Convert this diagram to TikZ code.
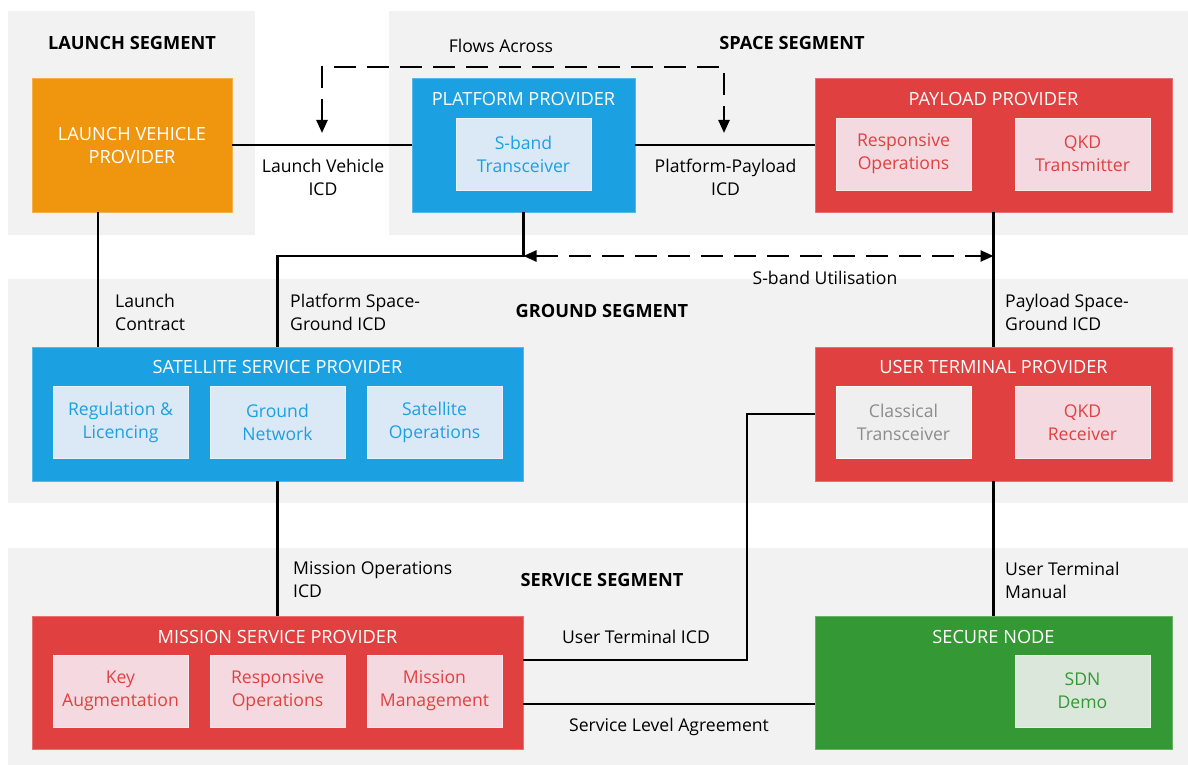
\documentclass[tikz,border=0pt]{standalone}
\usepackage{fontspec}
\setmainfont{Open Sans}
\usetikzlibrary{arrows.meta}
\definecolor{segbg}{HTML}{F2F2F2}
\definecolor{corange}{HTML}{F0960E}
\definecolor{cblue}{HTML}{1BA1E2}
\definecolor{cred}{HTML}{E04040}
\definecolor{cgreen}{HTML}{349934}
\definecolor{iblue}{HTML}{DBE8F6}
\definecolor{ired}{HTML}{F4DAE0}
\definecolor{igreen}{HTML}{DBE7DB}
\definecolor{igray}{HTML}{EFEFEF}
\definecolor{tgray}{HTML}{8C8C8C}
\newcommand{\bodyfont}{\fontsize{17.6}{23}\selectfont}
\newcommand{\capfont}{\fontsize{18.2}{23}\selectfont}
\tikzset{
  segbox/.style={fill=segbg, draw=none},
  segtitle/.style={font=\capfont\bfseries, text=black, inner sep=0pt},
  outer/.style={draw=#1!75!white, line width=0.8pt, fill=#1, inner sep=0pt, rectangle},
  boxtitle/.style={font=\capfont, text=white, inner sep=0pt},
  inner/.style={rectangle, inner sep=0pt, minimum width=135pt, minimum height=72pt, align=center, font=\bodyfont, line width=0.8pt},
  conn/.style={line width=2.4pt, draw=black},
  dashconn/.style={line width=2.4pt, draw=black, dash pattern=on 22pt off 11pt, {Triangle[length=13pt,width=11pt]}-{Triangle[length=13pt,width=11pt]}},
  lbl/.style={font=\bodyfont, text=black, inner sep=0pt, align=center},
  lbll/.style={font=\bodyfont, text=black, inner sep=0pt, align=left, anchor=west},
}
\begin{document}
\begin{tikzpicture}[x=1pt,y=-1pt]
\useasboundingbox (0,0) rectangle (1188,765);
% segments
\fill[segbox] (8,11) rectangle (255,235);
\fill[segbox] (389,11) rectangle (1188,235);
\fill[segbox] (8,279) rectangle (1188,503);
\fill[segbox] (8,548) rectangle (1188,765);
\node[segtitle] (tlaunch) at (132,43) {LAUNCH SEGMENT};
\node[segtitle] (tspace) at (792,43) {SPACE SEGMENT};
\node[segtitle] (tground) at (602,311) {GROUND SEGMENT};
\node[segtitle] (tservice) at (602,580) {SERVICE SEGMENT};

% launch vehicle provider
\node[outer=corange, minimum width=200pt, minimum height=134pt, font=\capfont, text=white, align=center] (lv) at (132,145) {LAUNCH VEHICLE\\PROVIDER};

% platform provider
\node[outer=cblue, minimum width=223pt, minimum height=134pt] (pp) at (523.5,145) {};
\node[boxtitle] (ppt) at (523.5,99) {PLATFORM PROVIDER};
\node[inner, fill=iblue, draw=iblue!60!white, text=cblue] (sband) at (523.5,154) {S-band\\Transceiver};

% payload provider
\node[outer=cred, minimum width=357pt, minimum height=134pt] (pl) at (993.5,145) {};
\node[boxtitle] (plt) at (993.5,99) {PAYLOAD PROVIDER};
\node[inner, fill=ired, draw=ired!60!white, text=cred] (plro) at (903.5,154) {Responsive\\Operations};
\node[inner, fill=ired, draw=ired!60!white, text=cred] (plqkd) at (1082.5,154) {QKD\\Transmitter};

% satellite service provider
\node[outer=cblue, minimum width=491pt, minimum height=134pt] (ssp) at (277.5,414) {};
\node[boxtitle] (sspt) at (277.5,367) {SATELLITE SERVICE PROVIDER};
\node[inner, fill=iblue, draw=iblue!60!white, text=cblue] (reg) at (120.5,422.5) {Regulation \&\\Licencing};
\node[inner, fill=iblue, draw=iblue!60!white, text=cblue] (gnet) at (277.5,422.5) {Ground\\Network};
\node[inner, fill=iblue, draw=iblue!60!white, text=cblue] (satops) at (434.5,422.5) {Satellite\\Operations};

% user terminal provider
\node[outer=cred, minimum width=357pt, minimum height=134pt] (utp) at (993.5,414) {};
\node[boxtitle] (utpt) at (993.5,367) {USER TERMINAL PROVIDER};
\node[inner, fill=igray, draw=white, text=tgray] (ctr) at (903.5,422.5) {Classical\\Transceiver};
\node[inner, fill=ired, draw=ired!60!white, text=cred] (qkdr) at (1082.5,422.5) {QKD\\Receiver};

% mission service provider
\node[outer=cred, minimum width=491pt, minimum height=133pt] (msp) at (277.5,682.5) {};
\node[boxtitle] (mspt) at (277.5,637) {MISSION SERVICE PROVIDER};
\node[inner, fill=ired, draw=ired!60!white, text=cred] (keya) at (120.5,691) {Key\\Augmentation};
\node[inner, fill=ired, draw=ired!60!white, text=cred] (mro) at (277.5,691) {Responsive\\Operations};
\node[inner, fill=ired, draw=ired!60!white, text=cred] (mman) at (434.5,691) {Mission\\Management};

% secure node
\node[outer=cgreen, minimum width=357pt, minimum height=133pt] (sn) at (993.5,682.5) {};
\node[boxtitle] (snt) at (993.5,637) {SECURE NODE};
\node[inner, fill=igreen, draw=igreen!60!white, text=cgreen] (sdn) at (1082.5,691) {SDN\\Demo};

% connectors
\draw[conn] (lv.east) -- (pp.west);
\node[lbl] (l1) at (323,177) {Launch Vehicle\\ICD};
\draw[conn] (pp.east) -- (pl.west);
\node[lbl] (l2) at (725.6,177) {Platform-Payload\\ICD};

\draw[conn] (lv.south -| 98,0) -- (ssp.north -| 98,0);
\node[lbll] (l3) at (115,312) {Launch\\Contract};

\coordinate (pj) at (523.5,256);
\draw[conn] (pp.south) -- (pj) -| (ssp.north -| 277.5,0);
\node[lbll] (l4) at (290,312) {Platform Space-\\Ground ICD};

\draw[conn] (pl.south) -- (utp.north);
\node[lbll] (l5) at (1005,312) {Payload Space-\\Ground ICD};

\coordinate (sbr) at (993.5,256);
\draw[dashconn] (pj) -- (sbr);
\node[lbl] (l6) at (825,278) {S-band Utilisation};

\coordinate (fa1) at (322,133);
\coordinate (fa2) at (724,133);
\draw[dashconn] (fa1) -- (322,67) -- (724,67) -- (fa2);
\node[lbl] (l7) at (501,46) {Flows Across};

\draw[conn] (ssp.south) -- (msp.north);
\node[lbll] (l8) at (293,580) {Mission Operations\\ICD};

\draw[conn] (utp.west |- 0,414) -- (747,414) |- (msp.east |- 0,660);
\node[lbl] (l9) at (636,637) {User Terminal ICD};

\draw[conn] (utp.south) -- (sn.north);
\node[lbll] (l10) at (1005,580) {User Terminal\\Manual};

\draw[conn] (msp.east |- 0,704) -- (sn.west |- 0,704);
\node[lbl] (l11) at (669,727) {Service Level Agreement};
\end{tikzpicture}
\end{document}
